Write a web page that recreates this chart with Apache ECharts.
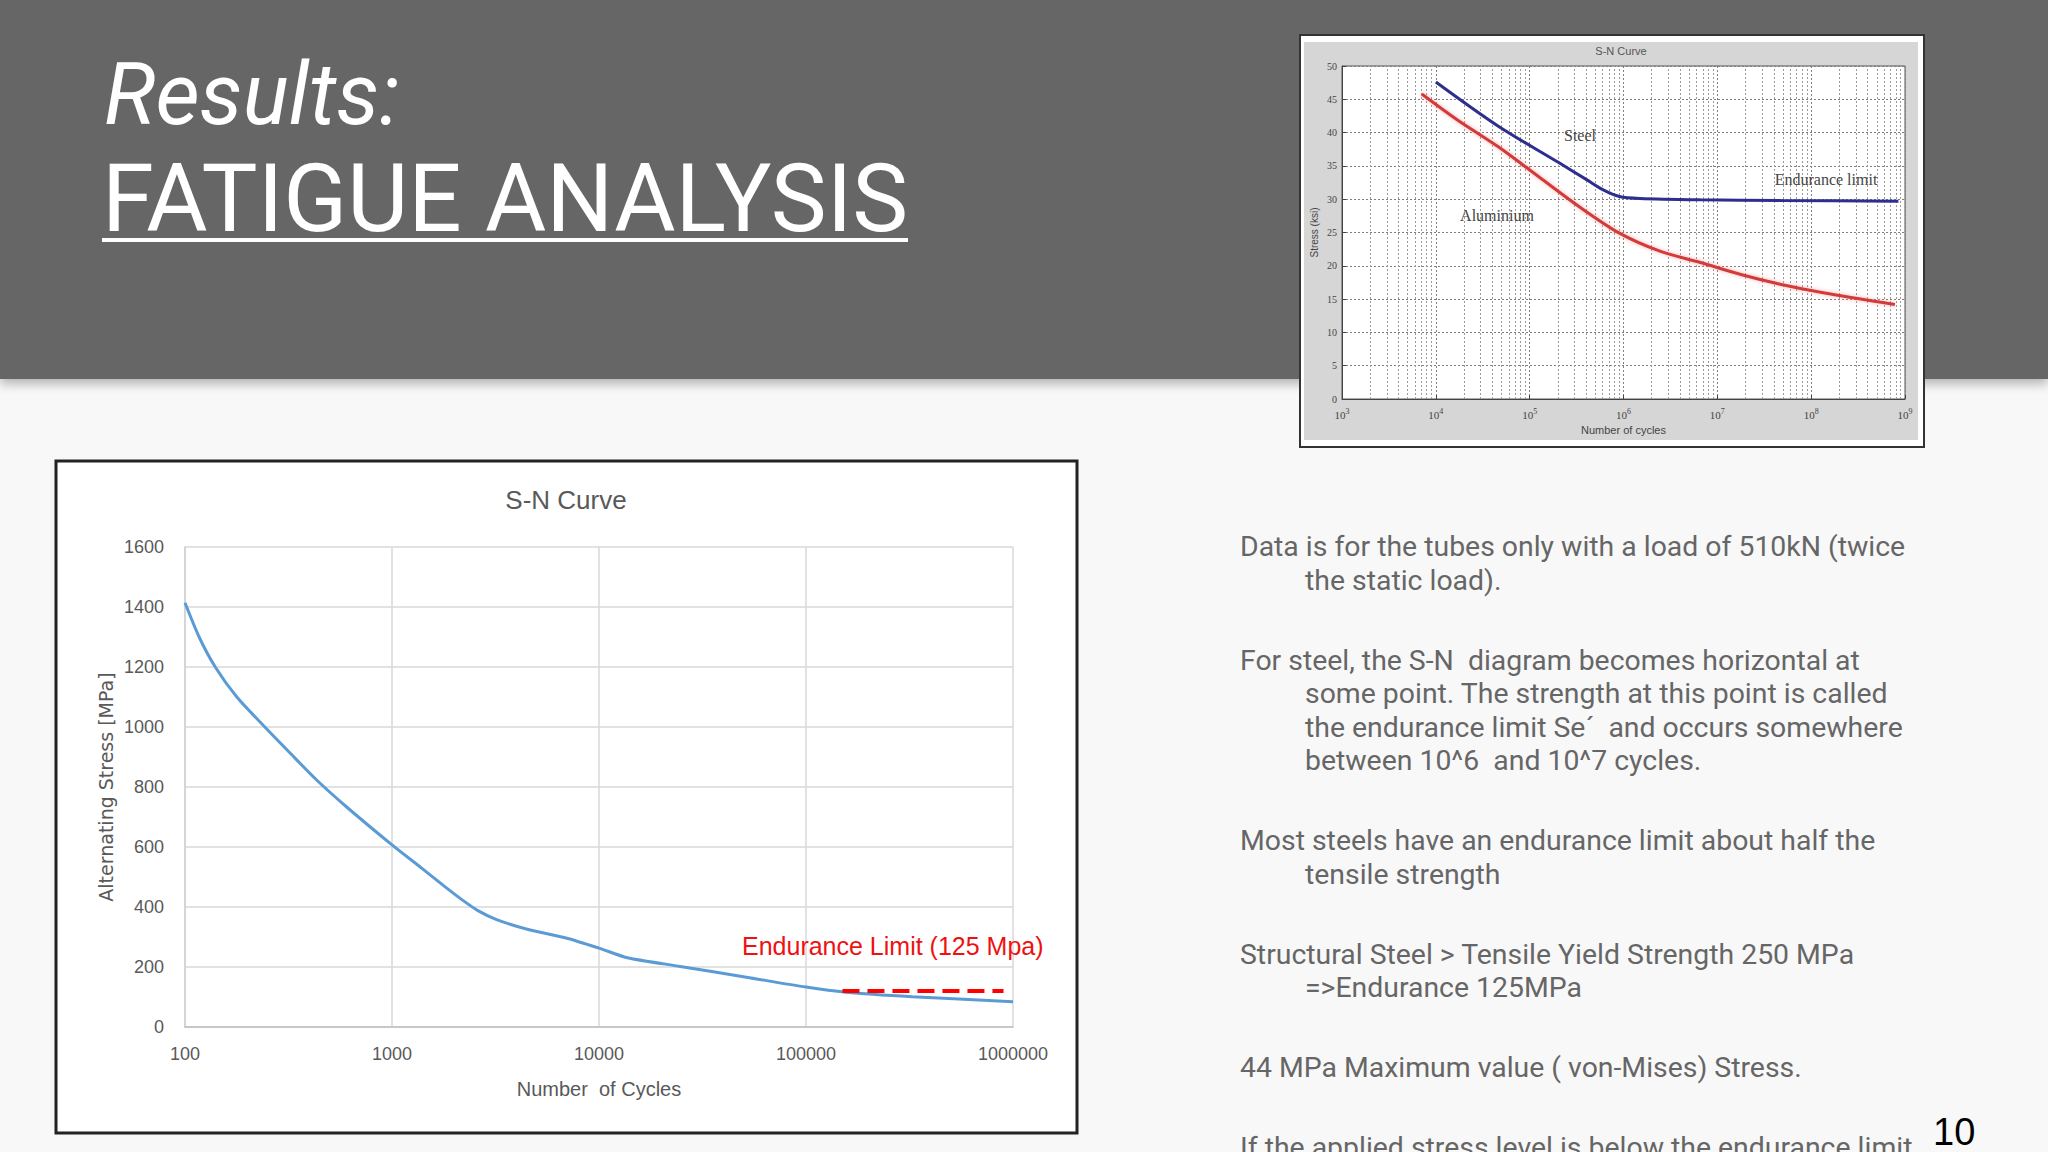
<!DOCTYPE html>
<html>
<head>
<meta charset="utf-8">
<script src="https://cdn.jsdelivr.net/npm/echarts@6/dist/echarts.min.js"></script>
<style>
  html, body { margin:0; padding:0; }
  body { width:2048px; height:1152px; overflow:hidden; background:#f8f8f9; position:relative; font-family:Roboto, sans-serif; }
  #header { position:absolute; left:0; top:0; width:2048px; height:379px; background:#666666; box-shadow:0 5px 10px rgba(0,0,0,0.28); }
  .t1 { position:absolute; left:104px; top:52px; font-size:86px; line-height:86px; font-style:italic; color:#fff; white-space:nowrap; }
  .t2 { position:absolute; left:102px; top:152px; font-size:94px; line-height:94px; color:#fff; white-space:nowrap; text-decoration:underline; text-decoration-thickness:4px; text-underline-offset:7px; }
  #notes { position:absolute; left:1240px; top:530px; width:800px; font-size:28.4px; line-height:33.5px; color:#666666; }
  #notes .p { padding-left:65px; text-indent:-65px; margin:0 0 46.5px 0; white-space:pre; }
  #pnum { position:absolute; left:1933px; top:1113px; font-family:"Liberation Sans", Arial, sans-serif; font-size:38px; line-height:38px; color:#000; }
  #chart { position:absolute; left:0; top:0; width:2048px; height:1152px; }
</style>
</head>
<body>
<div id="header"></div>
<div class="t1">Results:</div>
<div class="t2">FATIGUE ANALYSIS</div>
<div id="notes">
<div class="p">Data is for the tubes only with a load of 510kN (twice<br>the static load).</div>
<div class="p">For steel, the S-N  diagram becomes horizontal at<br>some point. The strength at this point is called<br>the endurance limit Se´  and occurs somewhere<br>between 10^6  and 10^7 cycles.</div>
<div class="p">Most steels have an endurance limit about half the<br>tensile strength</div>
<div class="p">Structural Steel &gt; Tensile Yield Strength 250 MPa<br>=&gt;Endurance 125MPa</div>
<div class="p">44 MPa Maximum value ( von-Mises) Stress.</div>
<div class="p">If the applied stress level is below the endurance limit</div>
</div>
<div id="chart"></div>
<div id="pnum">10</div>
<script>
// ---- Main S-N curve ----
const mainCycles = [100, 117, 140, 178, 243, 320, 430, 600, 1000, 1400, 1800, 2200, 2600, 3200, 4500, 7000, 10000, 13700, 24700, 51500, 100000, 156000, 326000, 1000000];
const mainStress = [1414, 1300, 1200, 1100, 1000, 915, 825, 735, 607, 528, 468, 422, 388, 358, 326, 296, 263, 231, 202, 166, 133, 116, 101, 84];
const enduranceCycles = [150000, 900000];
const enduranceStress = [120, 120];
const mainYTicks = [0, 1600, 200];   // min, max, step

// ---- Inset S-N curve (steel / aluminium) ----
const steelCycles = [10000, 45900, 203800, 408000, 608000, 904000, 1490000, 6600000, 48000000, 850000000];
const steelStress = [47.6, 41.0, 35.5, 32.9, 31.4, 30.4, 30.1, 29.9, 29.8, 29.7];
const aluCycles = [7080, 17000, 45900, 124000, 335000, 904000, 2440000, 6600000, 17800000, 48000000, 130000000, 780000000];
const aluStress = [45.8, 41.9, 37.9, 33.4, 28.9, 24.9, 22.2, 20.5, 18.7, 17.2, 16.0, 14.2];
const insetDecades = [3, 4, 5, 6, 7, 8];
const insetMinorSteps = [2, 3, 4, 5, 6, 7, 8, 9];

const zip = (xs, ys) => xs.map((x, i) => [x, ys[i]]);
const minorLines = [];
insetDecades.forEach(d => insetMinorSteps.forEach(k => minorLines.push({ xAxis: k * Math.pow(10, d) })));

const chart = echarts.init(document.getElementById('chart'), null, { renderer: 'svg' });
const grey = '#595959';
const option = {
  animation: false,
  graphic: [
    // main chart frame
    { type: 'rect', z: -10, shape: { x: 56, y: 461, width: 1021, height: 672 }, style: { fill: '#ffffff', stroke: '#222222', lineWidth: 3 } },
    { type: 'text', z: 50, x: 566, y: 500, style: { text: 'S-N Curve', fill: grey, fontSize: 26, fontFamily: 'Liberation Sans, Arial', textAlign: 'center', textVerticalAlign: 'middle' } },
    { type: 'text', z: 50, x: 742, y: 946, style: { text: 'Endurance Limit (125 Mpa)', fill: '#ee1111', fontSize: 25, fontFamily: 'Liberation Sans, Arial', textAlign: 'left', textVerticalAlign: 'middle' } },
    // inset frame
    { type: 'rect', z: -10, shape: { x: 1300, y: 35, width: 624, height: 412 }, style: { fill: '#ffffff', stroke: '#333333', lineWidth: 2 } },
    { type: 'rect', z: -9, shape: { x: 1304, y: 42, width: 614, height: 398 }, style: { fill: '#d6d6d6' } },
    { type: 'text', z: 50, x: 1621, y: 51, style: { text: 'S-N Curve', fill: '#555', fontSize: 11, fontFamily: 'Liberation Sans, Arial', textAlign: 'center', textVerticalAlign: 'middle' } },
    { type: 'text', z: 50, x: 1580, y: 135, style: { text: 'Steel', fill: '#444', fontSize: 16, fontFamily: 'Liberation Serif, serif', textAlign: 'center', textVerticalAlign: 'middle' } },
    { type: 'text', z: 50, x: 1497, y: 215, style: { text: 'Aluminium', fill: '#444', fontSize: 16, fontFamily: 'Liberation Serif, serif', textAlign: 'center', textVerticalAlign: 'middle' } },
    { type: 'text', z: 50, x: 1826, y: 179, style: { text: 'Endurance limit', fill: '#444', fontSize: 16, fontFamily: 'Liberation Serif, serif', textAlign: 'center', textVerticalAlign: 'middle' } }
  ],
  grid: [
    { left: 185, top: 547, width: 828, height: 480 },
    { left: 1342, top: 66, width: 563, height: 333, show: true, backgroundColor: '#ffffff', borderColor: '#555555', borderWidth: 1 }
  ],
  xAxis: [
    {
      gridIndex: 0, type: 'log', logBase: 10, min: mainCycles[0], max: mainCycles[mainCycles.length - 1],
      name: 'Number  of Cycles', nameLocation: 'middle', nameGap: 52,
      nameTextStyle: { color: grey, fontSize: 20, fontFamily: 'Liberation Sans, Arial' },
      axisLine: { show: true, lineStyle: { color: '#bfbfbf', width: 1.5 } },
      axisTick: { show: false },
      axisLabel: { color: grey, fontSize: 18, fontFamily: 'Liberation Sans, Arial', margin: 18, formatter: v => String(Math.round(v)) },
      splitLine: { show: true, lineStyle: { color: '#d9d9d9', width: 1.5 } }
    },
    {
      gridIndex: 1, type: 'log', logBase: 10, min: 1000, max: 1000000000,
      name: 'Number of cycles', nameLocation: 'middle', nameGap: 25,
      nameTextStyle: { color: '#444', fontSize: 11, fontFamily: 'Liberation Sans, Arial' },
      axisLine: { show: true, lineStyle: { color: '#444' } },
      axisTick: { show: true, inside: true, length: 4, lineStyle: { color: '#444' } },
      axisLabel: {
        color: '#444', fontSize: 11, fontFamily: 'Liberation Serif, serif', margin: 8,
        formatter: v => '10{s|' + Math.round(Math.log10(v)) + '}',
        rich: { s: { fontSize: 8, fontFamily: 'Liberation Serif, serif', color: '#444', padding: [0, 0, 7, 0] } }
      },
      splitLine: { show: true, lineStyle: { color: '#808080', type: [2, 2], width: 1 } }
    }
  ],
  yAxis: [
    {
      gridIndex: 0, type: 'value', min: mainYTicks[0], max: mainYTicks[1], interval: mainYTicks[2],
      name: 'Alternating Stress [MPa]', nameLocation: 'middle', nameGap: 70,
      nameTextStyle: { color: grey, fontSize: 19, fontFamily: 'DejaVu Sans' },
      axisLine: { show: true, lineStyle: { color: '#d0d0d0', width: 1.5 } },
      axisTick: { show: false },
      axisLabel: { color: grey, fontSize: 18, fontFamily: 'Liberation Sans, Arial', margin: 21, formatter: v => String(v) },
      splitLine: { show: true, lineStyle: { color: '#d9d9d9', width: 1.5 } }
    },
    {
      gridIndex: 1, type: 'value', min: 0, max: 50, interval: 5,
      name: 'Stress (ksi)', nameLocation: 'middle', nameGap: 23,
      nameTextStyle: { color: '#444', fontSize: 10, fontFamily: 'Liberation Sans, Arial' },
      axisLine: { show: true, lineStyle: { color: '#444' } },
      axisTick: { show: true, inside: true, length: 4, lineStyle: { color: '#444' } },
      axisLabel: { color: '#444', fontSize: 10, fontFamily: 'Liberation Serif, serif', margin: 5 },
      splitLine: { show: true, lineStyle: { color: '#808080', type: [2, 2], width: 1 } }
    }
  ],
  series: [
    {
      name: 'S-N', type: 'line', xAxisIndex: 0, yAxisIndex: 0, smooth: 0.25, showSymbol: false, symbol: 'none',
      lineStyle: { color: '#5b9bd5', width: 3 }, data: zip(mainCycles, mainStress), z: 3
    },
    {
      name: 'Endurance Limit', type: 'line', xAxisIndex: 0, yAxisIndex: 0, showSymbol: false, symbol: 'none',
      lineStyle: { color: '#ff0000', width: 4, type: [17, 8] }, data: zip(enduranceCycles, enduranceStress), z: 4
    },
    {
      name: 'minor grid', type: 'line', xAxisIndex: 1, yAxisIndex: 1, data: [], silent: true,
      markLine: { silent: true, symbol: ['none', 'none'], label: { show: false }, animation: false,
        lineStyle: { color: '#999999', type: [2, 2], width: 1 }, emphasis: { disabled: true }, data: minorLines }
    },
    {
      name: 'Aluminium', type: 'line', xAxisIndex: 1, yAxisIndex: 1, smooth: 0.3, showSymbol: false, symbol: 'none',
      lineStyle: { color: '#d03a3a', width: 3, shadowColor: 'rgba(255,120,120,0.6)', shadowBlur: 4 }, data: zip(aluCycles, aluStress), z: 5
    },
    {
      name: 'Steel', type: 'line', xAxisIndex: 1, yAxisIndex: 1, smooth: 0.3, showSymbol: false, symbol: 'none',
      lineStyle: { color: '#2e2e8e', width: 3 }, data: zip(steelCycles, steelStress), z: 5
    }
  ]
};
chart.setOption(option);
</script>
</body>
</html>
